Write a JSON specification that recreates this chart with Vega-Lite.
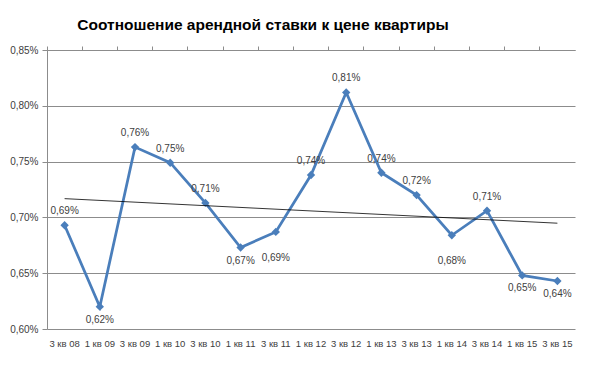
{
  "$schema": "https://vega.github.io/schema/vega-lite/v6.json",
  "width": 592,
  "height": 367,
  "autosize": {"type": "fit", "contains": "padding"},
  "padding": {"left": 9, "top": 17, "right": 17, "bottom": 19},
  "title": {
    "text": "Соотношение арендной ставки к цене квартиры",
    "font": "Liberation Sans",
    "fontSize": 15.5,
    "fontWeight": "bold",
    "color": "#000000",
    "anchor": "middle",
    "frame": "group",
    "offset": 12,
    "dx": -48
  },
  "config": {
    "locale": {"number": {"decimal": ",", "thousands": " ", "grouping": [3], "currency": ["", ""]}},
    "view": {"stroke": null},
    "font": "Liberation Sans",
    "axis": {"labelColor": "#404040", "labelFontSize": 10, "domainColor": "#8c8c8c", "tickColor": "#8c8c8c"}
  },
  "data": {
    "values": [
      {"q": "3 кв 08", "v": 0.00693},
      {"q": "1 кв 09", "v": 0.00620},
      {"q": "3 кв 09", "v": 0.00763},
      {"q": "1 кв 10", "v": 0.00749},
      {"q": "3 кв 10", "v": 0.00713},
      {"q": "1 кв 11", "v": 0.00673},
      {"q": "3 кв 11", "v": 0.00687},
      {"q": "1 кв 12", "v": 0.00738},
      {"q": "3 кв 12", "v": 0.00812},
      {"q": "1 кв 13", "v": 0.00740},
      {"q": "3 кв 13", "v": 0.00720},
      {"q": "1 кв 14", "v": 0.00684},
      {"q": "3 кв 14", "v": 0.00706},
      {"q": "1 кв 15", "v": 0.00648},
      {"q": "3 кв 15", "v": 0.00643}
    ]
  },
  "resolve": {"axis": {"x": "independent"}},
  "layer": [
    {
      "mark": {"type": "line", "color": "#4a7ebb", "strokeWidth": 2.75},
      "encoding": {
        "x": {"field": "q", "type": "ordinal", "sort": null, "title": null,
              "scale": {"type": "band", "paddingInner": 0, "paddingOuter": 0},
              "axis": {"labelAngle": 0, "ticks": false, "domain": false, "labelPadding": 9, "labelOverlap": false, "labelFontSize": 9.5}},
        "y": {"field": "v", "type": "quantitative", "title": null,
              "scale": {"domain": [0.006, 0.0085], "nice": false, "zero": false},
              "axis": {"format": ".2%", "values": [0.006, 0.0065, 0.007, 0.0075, 0.008, 0.0085], "gridColor": "#8c8c8c", "gridWidth": 1, "tickSize": 5, "labelPadding": 4, "domain": true}}
      }
    },
    {
      "mark": {"type": "point", "shape": "diamond", "filled": true, "color": "#4a7ebb", "size": 70, "opacity": 1},
      "encoding": {
        "x": {"field": "q", "type": "ordinal", "sort": null, "title": null,
              "axis": {"labels": false, "bandPosition": 0, "tickSize": 4, "domain": true}},
        "y": {"field": "v", "type": "quantitative"}
      }
    },
    {
      "data": {"values": [{"q": "3 кв 08", "t": 0.007168}, {"q": "3 кв 15", "t": 0.006948}]},
      "mark": {"type": "line", "color": "#000000", "strokeWidth": 0.8},
      "encoding": {
        "x": {"field": "q", "type": "ordinal", "sort": null, "axis": null},
        "y": {"field": "t", "type": "quantitative"}
      }
    },
    {
      "transform": [{"filter": {"field": "q", "oneOf": ["3 кв 08", "3 кв 09", "1 кв 10", "3 кв 10", "1 кв 12", "3 кв 12", "1 кв 13", "3 кв 13", "3 кв 14"]}}],
      "mark": {"type": "text", "dy": -14, "fontSize": 10, "color": "#404040"},
      "encoding": {
        "x": {"field": "q", "type": "ordinal", "sort": null, "axis": null},
        "y": {"field": "v", "type": "quantitative"},
        "text": {"field": "v", "type": "quantitative", "format": ".2%"}
      }
    },
    {
      "transform": [{"filter": {"field": "q", "oneOf": ["1 кв 09", "1 кв 11", "1 кв 15", "3 кв 15"]}}],
      "mark": {"type": "text", "dy": 13, "fontSize": 10, "color": "#404040"},
      "encoding": {
        "x": {"field": "q", "type": "ordinal", "sort": null, "axis": null},
        "y": {"field": "v", "type": "quantitative"},
        "text": {"field": "v", "type": "quantitative", "format": ".2%"}
      }
    },
    {
      "transform": [{"filter": {"field": "q", "oneOf": ["3 кв 11", "1 кв 14"]}}],
      "mark": {"type": "text", "dy": 26, "fontSize": 10, "color": "#404040"},
      "encoding": {
        "x": {"field": "q", "type": "ordinal", "sort": null, "axis": null},
        "y": {"field": "v", "type": "quantitative"},
        "text": {"field": "v", "type": "quantitative", "format": ".2%"}
      }
    }
  ]
}
